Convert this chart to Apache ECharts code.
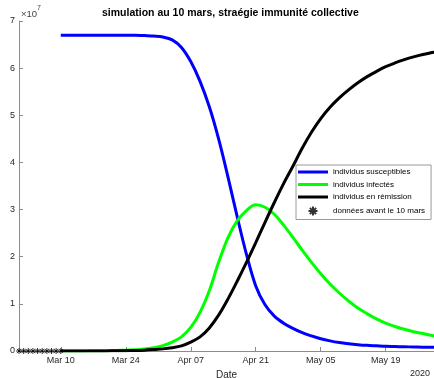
<!DOCTYPE html>
<html>
<head>
<meta charset="utf-8">
<script src="https://cdn.jsdelivr.net/npm/echarts@6/dist/echarts.min.js"></script>
<style>html,body{margin:0;padding:0;background:#fff}#c{width:434px;height:378px}</style>
</head>
<body>
<div id="c"></div>
<script>
// ---- data (values in units of 1e7 people), every 2 days from 10 March ----
var dates = ['2020-03-10','2020-03-12','2020-03-14','2020-03-16','2020-03-18','2020-03-20','2020-03-22','2020-03-24','2020-03-26','2020-03-28','2020-03-30',
             '2020-04-01','2020-04-03','2020-04-05','2020-04-07','2020-04-09','2020-04-11','2020-04-13','2020-04-15','2020-04-17','2020-04-19','2020-04-21','2020-04-23','2020-04-25','2020-04-27','2020-04-29',
             '2020-05-01','2020-05-03','2020-05-05','2020-05-07','2020-05-09','2020-05-11','2020-05-13','2020-05-15','2020-05-17','2020-05-19','2020-05-21','2020-05-23','2020-05-25','2020-05-27','2020-05-29','2020-05-30'];
var susceptible = [6.70,6.70,6.70,6.70,6.70,6.70,6.70,6.70,6.70,6.69,6.68,
                   6.66,6.60,6.44,6.14,5.72,5.18,4.50,3.70,2.85,2.05,1.38,0.98,0.74,0.59,0.48,
                   0.39,0.32,0.26,0.215,0.18,0.155,0.135,0.12,0.11,0.10,0.095,0.09,0.085,0.08,0.08,0.08];
var infected    = [0.000,0.001,0.002,0.003,0.005,0.008,0.012,0.018,0.026,0.04,0.07,
                   0.115,0.19,0.30,0.50,0.82,1.28,1.88,2.40,2.76,2.98,3.10,3.05,2.90,2.67,2.41,
                   2.14,1.88,1.64,1.42,1.23,1.06,0.91,0.79,0.68,0.59,0.52,0.46,0.41,0.37,0.33,0.32];
var recovered   = [0.000,0.000,0.000,0.000,0.001,0.002,0.004,0.007,0.011,0.018,0.03,
                   0.045,0.07,0.11,0.19,0.30,0.49,0.76,1.10,1.48,1.88,2.30,2.73,3.15,3.55,3.92,
                   4.30,4.64,4.93,5.17,5.37,5.54,5.69,5.82,5.93,6.03,6.11,6.18,6.24,6.29,6.33,6.35];
var preDates  = ['2020-03-01','2020-03-02','2020-03-03','2020-03-04','2020-03-05','2020-03-06','2020-03-07','2020-03-08','2020-03-09','2020-03-10'];
var preValues = [0,0,0,0,0,0,0,0,0,0];
var tickDates = ['2020-03-10','2020-03-24','2020-04-07','2020-04-21','2020-05-05','2020-05-19'];
var tickLabels = ['Mar 10','Mar 24','Apr 07','Apr 21','May 05','May 19'];
var seriesNames = ['individus susceptibles','individus infectés','individus en rémission','données avant le 10 mars'];
var titleText = 'simulation au 10 mars, straégie immunité collective';

var DAY = 86400000;
var T0 = Date.UTC(2020, 2, 1);
// x position expressed in days since 1 March 2020
function dx(s){ var p = s.split('-'); return (Date.UTC(+p[0], +p[1]-1, +p[2]) - T0) / DAY; }
function pairs(ds, vs){ return ds.map(function(d,i){ return [dx(d), vs[i]*1e7]; }); }
var tickX = tickDates.map(dx);
var labelMap = {};
tickX.forEach(function(t,i){ labelMap[t] = tickLabels[i]; });

var asterisk = 'path://M5,0L5,10M0,5L10,5M1.5,1.5L8.5,8.5M8.5,1.5L1.5,8.5';
var lineIcon = 'path://M0,0H30V3H0Z';
var font = 'Liberation Sans, Arial, Helvetica, sans-serif';
var axisGray = '#8c8c8c';
var labelColor = '#262626';

var chart = echarts.init(document.getElementById('c'), null, {renderer:'canvas'});
chart.setOption({
  animation: false,
  textStyle: {fontFamily: font},
  title: {
    text: titleText, left: 97, top: 3,
    textStyle: {fontSize: 10.5, fontWeight: 'bold', color: '#000', fontFamily: font}
  },
  grid: {left: 19, right: 0, top: 21, bottom: 27, containLabel: false, outerBoundsMode: 'none'},
  legend: {
    orient: 'vertical', left: 296, top: 165,
    itemWidth: 30, itemHeight: 9, itemGap: 4.5,
    padding: [3, 6, 3, 2],
    backgroundColor: '#fff', borderColor: '#9a9a9a', borderWidth: 1,
    textStyle: {fontSize: 8, color: '#000', fontFamily: font},
    data: [
      {name: seriesNames[0], icon: lineIcon},
      {name: seriesNames[1], icon: lineIcon},
      {name: seriesNames[2], icon: lineIcon},
      {name: seriesNames[3], icon: asterisk}
    ]
  },
  xAxis: {
    type: 'value',
    min: 0,
    max: 89.4,
    name: 'Date', nameLocation: 'middle', nameGap: 18,
    nameTextStyle: {fontSize: 10, color: labelColor, fontFamily: font},
    axisLine: {show: true, onZero: false, lineStyle: {color: axisGray, width: 1}},
    axisTick: {show: true, inside: true, length: 4, lineStyle: {color: axisGray}, customValues: tickX},
    axisLabel: {
      show: true, fontSize: 9, color: labelColor, margin: 5, fontFamily: font,
      customValues: tickX,
      formatter: function(v){ return labelMap[v] || ''; }
    },
    splitLine: {show: false}
  },
  yAxis: {
    type: 'value', min: 0, max: 7e7, interval: 1e7,
    axisLine: {show: true, onZero: false, lineStyle: {color: axisGray, width: 1}},
    axisTick: {show: true, inside: true, length: 4, lineStyle: {color: axisGray}},
    axisLabel: {fontSize: 9, color: labelColor, margin: 4, fontFamily: font,
      formatter: function(v){ return String(Math.round(v/1e7)); }},
    splitLine: {show: false}
  },
  graphic: [
    {type: 'text', left: 21, top: 5, style: {
      text: '{a|×10}{b|7}',
      rich: {a: {fontSize: 9.5, fill: '#444', fontFamily: font, verticalAlign: 'bottom', lineHeight: 14},
             b: {fontSize: 7, fill: '#444', fontFamily: font, verticalAlign: 'top', lineHeight: 14}}
    }},
    {type: 'text', right: 4, bottom: 0, style: {text: '2020', fontSize: 9, fill: labelColor, fontFamily: font}}
  ],
  series: [
    {name: seriesNames[0], type: 'line', data: pairs(dates, susceptible), smooth: 0.35, symbol: 'none',
     lineStyle: {color: '#0000ff', width: 3}, itemStyle: {color: '#0000ff'}},
    {name: seriesNames[1], type: 'line', data: pairs(dates, infected), smooth: 0.35, symbol: 'none',
     lineStyle: {color: '#00ff00', width: 3}, itemStyle: {color: '#00ff00'}},
    {name: seriesNames[2], type: 'line', data: pairs(dates, recovered), smooth: 0.35, symbol: 'none',
     lineStyle: {color: '#000000', width: 3}, itemStyle: {color: '#000000'}},
    {name: seriesNames[3], type: 'scatter', data: pairs(preDates, preValues), symbol: asterisk, symbolSize: 6,
     itemStyle: {color: 'rgba(0,0,0,0)', borderColor: '#000', borderWidth: 1}, z: 5}
  ]
});
</script>
</body>
</html>
